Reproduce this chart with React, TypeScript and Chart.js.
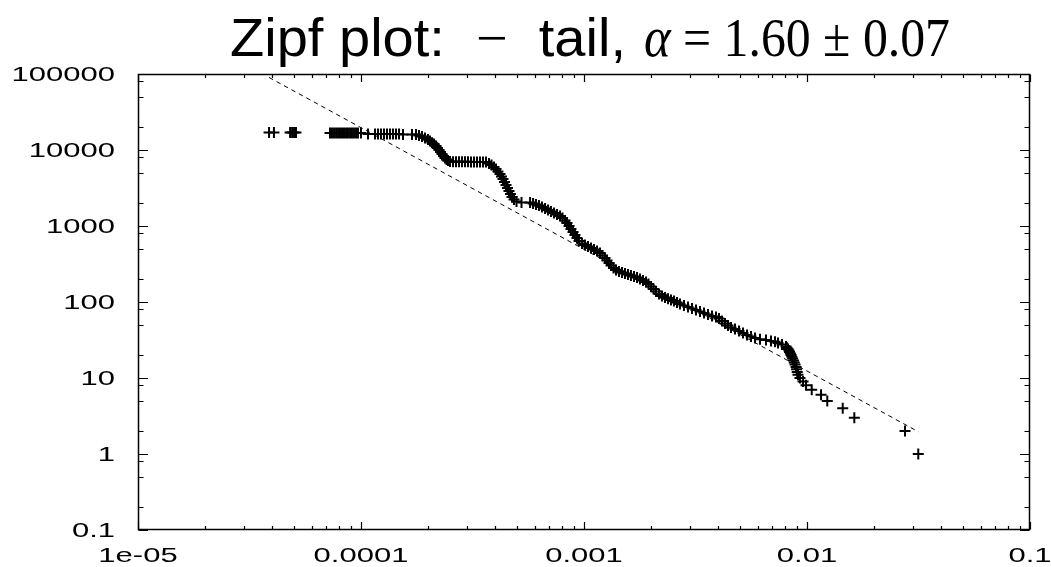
import React, { useEffect, useRef } from 'react';
import { Chart, registerables } from 'chart.js';

Chart.register(...registerables);

// ---- data (x = rank fraction, y = value) ----
const topRow: [number, number][] = [
  [3.87e-5, 17000], [4.07e-5, 17000], [4.81e-5, 17000], [4.91e-5, 17000], [5.01e-5, 17000], [5.11e-5, 17000],
  [7.26e-5, 16700], [7.41e-5, 16700], [7.57e-5, 16700], [7.73e-5, 16700], [7.89e-5, 16700], [8.05e-5, 16700],
  [8.22e-5, 16700], [8.39e-5, 16700], [8.57e-5, 16700], [8.74e-5, 16700], [8.93e-5, 16700], [9.11e-5, 16700],
  [9.30e-5, 16700], [9.50e-5, 16700], [9.69e-5, 16700], [1.0e-4, 16700],
  [1.075e-4, 16200], [1.156e-4, 16200], [1.192e-4, 16200], [1.229e-4, 16200], [1.268e-4, 16200], [1.308e-4, 16200],
  [1.349e-4, 16200], [1.391e-4, 16200], [1.435e-4, 16200], [1.481e-4, 16200], [1.543e-4, 16000], [1.693e-4, 16000],
];

const firstDrop: [number, number][] = [
  [1.764e-4, 16000], [1.82e-4, 15500], [1.877e-4, 15000], [1.936e-4, 14400], [1.997e-4, 13700], [2.039e-4, 13100],
  [2.082e-4, 12500], [2.125e-4, 12000], [2.17e-4, 11300], [2.203e-4, 10600], [2.238e-4, 10000], [2.273e-4, 9410],
  [2.308e-4, 8860], [2.344e-4, 8340], [2.381e-4, 7850], [2.418e-4, 7500], [2.455e-4, 7270], [2.507e-4, 7060],
];

const secondRow: [number, number][] = [
  [2.586e-4, 7000], [2.667e-4, 7000], [2.751e-4, 7000], [2.838e-4, 7000], [2.927e-4, 7000], [3.019e-4, 7000],
  [3.114e-4, 6950], [3.212e-4, 6950], [3.313e-4, 6950], [3.417e-4, 6950], [3.525e-4, 6950], [3.636e-4, 6950],
];

const secondDrop: [number, number][] = [
  [3.75e-4, 6640], [3.848e-4, 6350], [3.948e-4, 5980], [4.031e-4, 5620], [4.115e-4, 5210], [4.201e-4, 4830],
  [4.266e-4, 4480], [4.333e-4, 4150], [4.4e-4, 3790], [4.469e-4, 3460], [4.539e-4, 3160], [4.609e-4, 2890],
  [4.681e-4, 2640], [4.755e-4, 2410], [4.855e-4, 2230], [4.981e-4, 2100], [5.245e-4, 2040],
];

const middleRun: [number, number][] = [
  [5.73e-4, 2038], [5.91e-4, 1978], [6.09e-4, 1918], [6.28e-4, 1861], [6.48e-4, 1778], [6.69e-4, 1699],
  [6.9e-4, 1624], [7.11e-4, 1552], [7.34e-4, 1483], [7.57e-4, 1417], [7.81e-4, 1354], [8.01e-4, 1274],
  [8.22e-4, 1181], [8.39e-4, 1095], [8.57e-4, 1000], [8.74e-4, 913], [8.93e-4, 834], [9.11e-4, 762],
  [9.3e-4, 695], [9.5e-4, 635], [9.8e-4, 589], [1.01e-3, 562], [1.042e-3, 537], [1.075e-3, 513],
  [1.109e-3, 491], [1.144e-3, 469], [1.18e-3, 441], [1.211e-3, 409], [1.242e-3, 379], [1.268e-3, 352],
  [1.295e-3, 326], [1.322e-3, 302], [1.356e-3, 280], [1.392e-3, 264], [1.435e-3, 252], [1.481e-3, 244],
  [1.527e-3, 237], [1.575e-3, 230], [1.624e-3, 223], [1.676e-3, 217], [1.729e-3, 210], [1.783e-3, 201],
  [1.839e-3, 192], [1.897e-3, 183], [1.946e-3, 172], [1.998e-3, 160], [2.05e-3, 148], [2.103e-3, 137],
  [2.17e-3, 127], [2.238e-3, 120], [2.308e-3, 115], [2.381e-3, 110], [2.455e-3, 106], [2.533e-3, 103],
  [2.612e-3, 98.5], [2.694e-3, 94.1], [2.808e-3, 89.9], [2.927e-3, 86.0], [3.05e-3, 82.1], [3.178e-3, 78.5],
  [3.313e-3, 75.0], [3.452e-3, 71.7], [3.598e-3, 68.5], [3.75e-3, 65.4], [3.908e-3, 63.5], [4.031e-3, 60.7],
  [4.158e-3, 56.2], [4.289e-3, 52.1], [4.424e-3, 49.1], [4.563e-3, 46.2], [4.755e-3, 44.1], [4.957e-3, 41.5],
  [5.164e-3, 39.1], [5.382e-3, 36.8], [5.609e-3, 35.2], [5.845e-3, 33.6], [6.155e-3, 32.3], [6.548e-3, 31.6],
  [6.896e-3, 30.7], [7.187e-3, 30.0], [7.413e-3, 28.9], [7.726e-3, 27.6], [8.051e-3, 26.0],
];

const tail: [number, number][] = [
  [8.13e-3, 25], [8.22e-3, 24], [8.3e-3, 23], [8.35e-3, 22], [8.42e-3, 21], [8.48e-3, 20], [8.55e-3, 19],
  [8.62e-3, 18], [8.7e-3, 17], [8.77e-3, 16], [8.84e-3, 15], [8.93e-3, 14], [8.98e-3, 13], [9.04e-3, 12],
  [9.11e-3, 11], [9.3e-3, 10], [9.6e-3, 9], [9.9e-3, 8], [1.05e-2, 7], [1.156e-2, 6], [1.233e-2, 5],
  [1.446e-2, 4], [1.63e-2, 3], [2.751e-2, 2], [3.155e-2, 1],
];

// fitted power law, alpha = 1.60
const fitX = [3.87e-5, 3.16e-2];
const fitY = [90000, 1.96];

const xTickValues = [1e-5, 1e-4, 1e-3, 1e-2, 1e-1];
const xTickLabels = ['1e-05', '0.0001', '0.001', '0.01', '0.1'];
const yTickValues = [0.1, 1, 10, 100, 1000, 10000, 100000];
const yTickLabels = ['0.1', '1', '10', '100', '1000', '10000', '100000'];
const xMinorFactors = [2, 3, 4, 5, 6, 7, 8, 9];
const yMinorFactors = [2, 5, 8];

const titleTextPart = ['Zipf plot:  ', '\u2212', '  tail,'];
const titleMathPart = ['\u03b1', ' = 1.60 \u00b1 0.07'];

const framePlugin = {
  id: 'gnuplotFrame',
  afterDraw(chart: any) {
    const { ctx, chartArea: a, scales } = chart;
    const xs = scales.x;
    const ys = scales.y;
    const L = Math.round(a.left) + 0.5;
    const R = Math.round(a.right) - 0.5;
    const T = Math.round(a.top) + 0.5;
    const B = Math.round(a.bottom) - 0.5;
    ctx.save();
    ctx.strokeStyle = '#000';
    ctx.lineWidth = 1.5;
    ctx.strokeRect(L, T, R - L, B - T);

    ctx.lineWidth = 1.2;
    ctx.beginPath();
    const vtick = (v: number, len: number) => {
      const p = Math.round(xs.getPixelForValue(v)) + 0.5;
      ctx.moveTo(p, B); ctx.lineTo(p, B - len);
      ctx.moveTo(p, T); ctx.lineTo(p, T + len);
    };
    const htick = (v: number, len: number) => {
      const p = Math.round(ys.getPixelForValue(v)) + 0.5;
      ctx.moveTo(L, p); ctx.lineTo(L + len, p);
      ctx.moveTo(R, p); ctx.lineTo(R - len, p);
    };
    xTickValues.forEach((v, i) => {
      vtick(v, 7.5);
      if (i < xTickValues.length - 1) xMinorFactors.forEach((m) => vtick(v * m, 3.5));
    });
    yTickValues.forEach((v, i) => {
      htick(v, 9.5);
      if (i < yTickValues.length - 1) yMinorFactors.forEach((m) => htick(v * m, 5));
    });
    ctx.stroke();

    // tick labels (horizontally stretched like the source)
    ctx.fillStyle = '#000';
    ctx.font = '20px "Liberation Sans", Arial, sans-serif';
    ctx.textBaseline = 'alphabetic';
    const stretch = 1.55;
    xTickValues.forEach((v, i) => {
      const p = xs.getPixelForValue(v);
      ctx.save();
      ctx.translate(p, 561.5);
      ctx.scale(stretch, 1);
      ctx.textAlign = 'center';
      ctx.fillText(xTickLabels[i], 0, 0);
      ctx.restore();
    });
    yTickValues.forEach((v, i) => {
      const p = ys.getPixelForValue(v);
      ctx.save();
      ctx.translate(115, p + 7.2);
      ctx.scale(stretch, 1);
      ctx.textAlign = 'right';
      ctx.fillText(yTickLabels[i], 0, 0);
      ctx.restore();
    });

    // title, drawn in two groups fitted to the source extents
    const drawGroup = (pieces: string[], fonts: string[], left: number, width: number) => {
      const widths = pieces.map((t, i) => { ctx.font = fonts[i]; return ctx.measureText(t).width; });
      const total = widths.reduce((s, w) => s + w, 0);
      ctx.save();
      ctx.translate(left, 56);
      ctx.scale(width / total, 1);
      ctx.textAlign = 'left';
      let x = 0;
      pieces.forEach((t, i) => {
        ctx.font = fonts[i];
        ctx.fillText(t, x, 0);
        x += widths[i];
      });
      ctx.restore();
    };
    drawGroup(
      titleTextPart,
      ['54px "Liberation Sans", Arial, sans-serif', '54px "Liberation Serif", serif', '54px "Liberation Sans", Arial, sans-serif'],
      230, 396,
    );
    drawGroup(
      titleMathPart,
      ['italic 56px "Liberation Serif", serif', '55px "Liberation Serif", serif'],
      644, 306,
    );
    ctx.restore();
  },
};

export default function App() {
  const ref = useRef<HTMLCanvasElement | null>(null);
  useEffect(() => {
    document.body.style.margin = '0';
    const canvas = ref.current;
    if (!canvas) return;
    const points = [...topRow, ...firstDrop, ...secondRow, ...secondDrop, ...middleRun, ...tail].map(([x, y]) => ({ x, y }));
    const fit = fitX.map((x, i) => ({ x, y: fitY[i] }));
    const chart = new Chart(canvas, {
      type: 'scatter',
      data: {
        datasets: [
          {
            label: 'fit',
            data: fit,
            showLine: true,
            pointRadius: 0,
            borderColor: '#000',
            borderWidth: 1,
            borderDash: [4.5, 4],
            fill: false,
            order: 2,
          } as any,
          {
            label: 'data',
            data: points,
            pointStyle: 'cross',
            pointRadius: 5.5,
            pointHoverRadius: 5.5,
            pointBorderColor: '#000',
            pointBackgroundColor: '#000',
            pointBorderWidth: 2,
            borderColor: '#000',
            showLine: false,
            order: 1,
          } as any,
        ],
      },
      options: {
        responsive: false,
        animation: false,
        devicePixelRatio: 1,
        events: [],
        layout: { padding: { left: 138, right: 21, top: 74, bottom: 37 } },
        scales: {
          x: { type: 'logarithmic', min: 1e-5, max: 0.1, display: false },
          y: { type: 'logarithmic', min: 0.1, max: 100000, display: false },
        },
        plugins: {
          legend: { display: false },
          tooltip: { enabled: false },
          title: { display: false },
        },
      },
      plugins: [framePlugin],
    });
    return () => chart.destroy();
  }, []);
  return (
    <div style={{ position: 'absolute', left: 0, top: 0, width: 1051, height: 567, background: '#fff' }}>
      <canvas ref={ref} width={1051} height={567} style={{ display: 'block', width: 1051, height: 567 }} />
    </div>
  );
}
